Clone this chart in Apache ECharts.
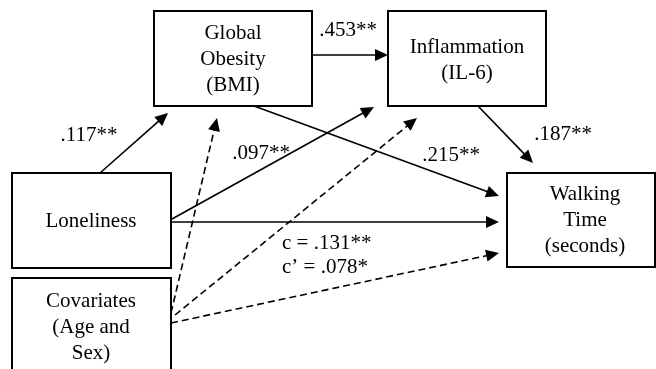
<!DOCTYPE html>
<html><head><meta charset="utf-8">
<script src="https://cdn.jsdelivr.net/npm/echarts@6/dist/echarts.min.js"></script>
<style>html,body{margin:0;padding:0;background:#fff}#c{width:656px;height:369px}</style>
</head><body><div id="c"></div>
<script>
// Node names (variables in the mediation model)
var nodeNames = ["Global\nObesity\n(BMI)", "Inflammation\n(IL-6)", "Loneliness", "Covariates\n(Age and\nSex)", "Walking\nTime\n(seconds)"];
// Node box extents in diagram units [x1, y1, x2, y2]
var nodeBoxes = [[154,11,312,106],[388,11,546,106],[12,173,171,268],[12,278,171,380],[507,173,655,267]];
var nodeTextCenters = [[233,59],[467,60],[91,221],[91,327],[585,220]];
// Path edges [x1, y1, x2, y2] and whether dashed (covariate paths)
var edgeCoords = [[100,173,168,113],[312,55,388,55],[254,106,499,196],[172,219,374,107],[478,106,533,163],[171,222,499,222],[171,313,217,118],[175,315,417,118],[171,323,499,253]];
var edgeDashed = [0,0,0,0,0,0,1,1,1];
// Path coefficients and their anchor positions
var coefLabels = [".117**", ".453**", ".097**", ".215**", ".187**", "c = .131**", "c\u2019 = .078*"];
var coefAnchors = [[89,135,"center"],[348,30,"center"],[261,153,"center"],[451,155,"center"],[563,134,"center"],[282,243,"left"],[282,267,"left"]];

var FONT = '21px "Liberation Serif", "Times New Roman", serif';
var chart = echarts.init(document.getElementById('c'), null, {renderer: 'canvas'});

chart.setOption({
  animation: false,
  backgroundColor: '#fff',
  grid: {left: 0, right: 0, top: 0, bottom: 0},
  xAxis: {type: 'value', min: 0, max: 656, show: false},
  yAxis: {type: 'value', min: 0, max: 369, inverse: true, show: false},
  series: [
    {
      type: 'custom', coordinateSystem: 'cartesian2d', z: 2,
      data: nodeBoxes.map(function (b, i) { return [b[0], b[1], b[2], b[3], nodeTextCenters[i][0], nodeTextCenters[i][1], i]; }),
      renderItem: function (params, api) {
        var p1 = api.coord([api.value(0), api.value(1)]);
        var p2 = api.coord([api.value(2), api.value(3)]);
        var tc = api.coord([api.value(4), api.value(5)]);
        var idx = api.value(6);
        return {
          type: 'group',
          children: [
            {type: 'rect', shape: {x: p1[0], y: p1[1], width: p2[0] - p1[0], height: p2[1] - p1[1]},
             style: {fill: '#fff', stroke: '#000', lineWidth: 2}},
            {type: 'text', style: {text: nodeNames[idx], x: tc[0], y: tc[1], align: 'center', verticalAlign: 'middle',
              font: FONT, lineHeight: 26, fill: '#000'}}
          ]
        };
      }
    },
    {
      type: 'custom', coordinateSystem: 'cartesian2d', z: 3,
      data: edgeCoords.map(function (e, i) { return [e[0], e[1], e[2], e[3], edgeDashed[i]]; }),
      renderItem: function (params, api) {
        var a = api.coord([api.value(0), api.value(1)]);
        var b = api.coord([api.value(2), api.value(3)]);
        var dashed = api.value(4) === 1;
        var dx = b[0] - a[0], dy = b[1] - a[1];
        var len = Math.sqrt(dx * dx + dy * dy);
        var ux = dx / len, uy = dy / len;
        var L = 13, W = 6;
        var base = [b[0] - ux * L, b[1] - uy * L];
        return {
          type: 'group',
          children: [
            {type: 'line', shape: {x1: a[0], y1: a[1], x2: base[0] + ux * 1, y2: base[1] + uy * 1},
             style: {stroke: '#000', lineWidth: 1.6, lineDash: dashed ? [7, 4] : null}},
            {type: 'polygon', shape: {points: [[b[0], b[1]], [base[0] - uy * W, base[1] + ux * W], [base[0] + uy * W, base[1] - ux * W]]},
             style: {fill: '#000'}}
          ]
        };
      }
    },
    {
      type: 'custom', coordinateSystem: 'cartesian2d', z: 4,
      data: coefAnchors.map(function (c, i) { return [c[0], c[1], i]; }),
      renderItem: function (params, api) {
        var p = api.coord([api.value(0), api.value(1)]);
        var i = api.value(2);
        return {type: 'text', style: {text: coefLabels[i], x: p[0], y: p[1], align: coefAnchors[i][2],
          verticalAlign: 'middle', font: FONT, fill: '#000'}};
      }
    }
  ]
});
</script></body></html>
